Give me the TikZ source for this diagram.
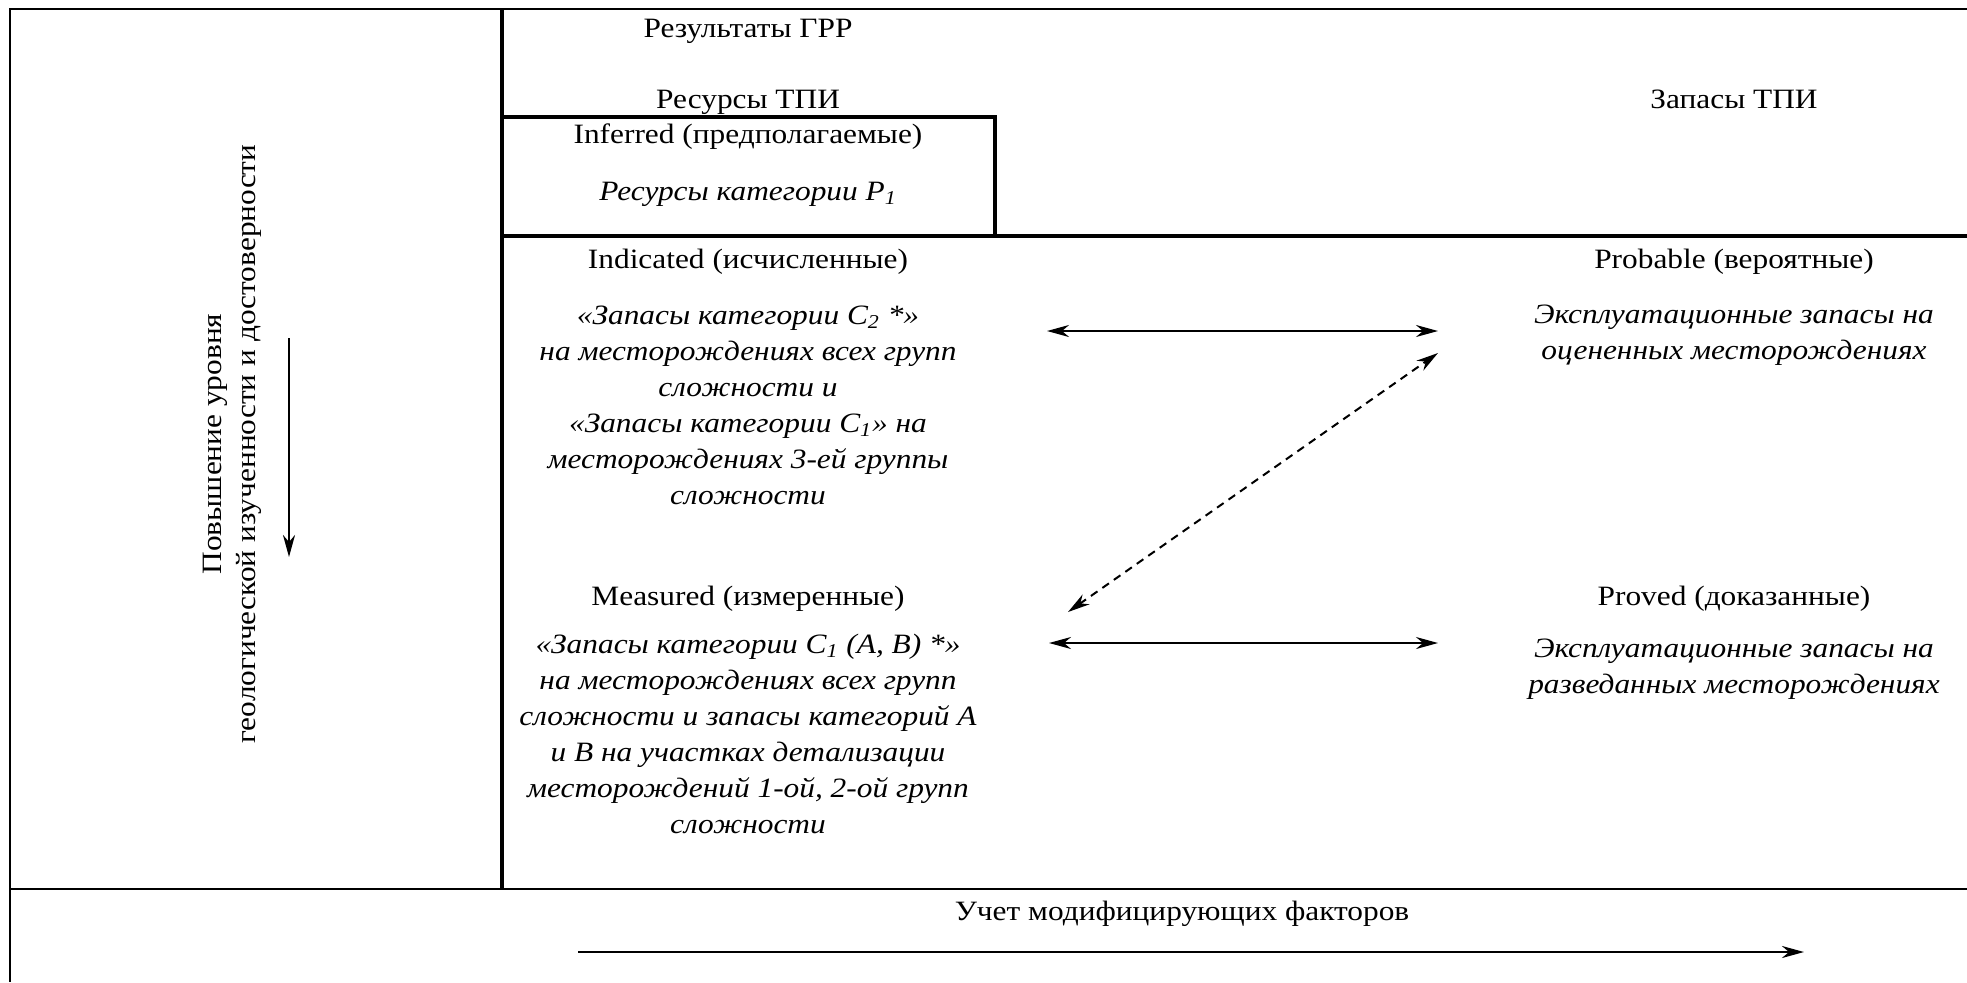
\documentclass[tikz,border=0pt]{standalone}
\usepackage{fontspec}
\setmainfont{Liberation Serif}[FakeStretch=1.12]
\usetikzlibrary{arrows.meta}
\begin{document}
\begin{tikzpicture}[x=0.5pt,y=-0.5pt,
  txt/.style={inner sep=0pt, align=center, font=\fontsize{14}{18}\selectfont},
  itxt/.style={inner sep=0pt, align=center, font=\fontsize{14}{18}\selectfont\itshape},
  thinframe/.style={line width=1.4pt},
  thickframe/.style={line width=2.3pt},
  tip/.tip={Stealth[length=11pt,width=6pt,inset=3.5pt]},
  dbl/.style={line width=1pt, tip-tip},
  one/.style={line width=1.3pt, -tip},
  dashline/.style={dash pattern=on 4pt off 3pt}
]
\useasboundingbox (0,0) rectangle (1967,982);
% frame
\draw[thinframe] (1967,9) -- (10,9) -- (10,982);
\draw[thinframe] (10,889) -- (1967,889);
\draw[thickframe] (502,9) -- (502,889);
\draw[thickframe] (502,117) -- (995,117) -- (995,236);
\draw[thickframe] (502,236) -- (1967,236);
% texts
\node[txt, anchor=base] (grr) at (748,37) {Результаты ГРР};
\node[txt, anchor=base] (res) at (748,108) {Ресурсы ТПИ};
\node[txt, anchor=base] (zap) at (1734,108) {Запасы ТПИ};
\node[txt, anchor=base] (inf) at (748,143) {Inferred (предполагаемые)};
\node[itxt, anchor=base] (p1) at (748,200) {Ресурсы категории Р\textsubscript{1}};
\node[txt, anchor=base] (ind) at (748,268) {Indicated (исчисленные)};
\node[itxt, anchor=north] (indt) at (748,298.8) {\strut«Запасы категории С\textsubscript{2} *»\\на месторождениях всех групп\\сложности и\\«Запасы категории С\textsubscript{1}» на\\месторождениях 3-ей группы\\сложности};
\node[txt, anchor=base] (prob) at (1734,268) {Probable (вероятные)};
\node[itxt, anchor=north] (probt) at (1734,297.8) {\strut Эксплуатационные запасы на\\оцененных месторождениях};
\node[txt, anchor=base] (meas) at (748,605) {Measured (измеренные)};
\node[itxt, anchor=north] (meast) at (748,627.8) {\strut«Запасы категории С\textsubscript{1} (А, В) *»\\на месторождениях всех групп\\сложности и запасы категорий А\\и В на участках детализации\\месторождений 1-ой, 2-ой групп\\сложности};
\node[txt, anchor=base] (prov) at (1734,605) {Proved (доказанные)};
\node[itxt, anchor=north] (provt) at (1734,631.8) {\strut Эксплуатационные запасы на\\разведанных месторождениях};
\node[txt, anchor=base] (mod) at (1182,920) {Учет модифицирующих факторов};
\node[inner sep=0pt, align=center, rotate=90, font=\fontsize{14}{17}\selectfont] (lev) at (232,444) {Повышение уровня\\геологической изученности и достоверности};
% connectors
\coordinate (u1) at (1047,331); \coordinate (u2) at (1438,331);
\draw[dbl] (u1) -- (u2);
\coordinate (d1) at (1068,612); \coordinate (d2) at (1438,353);
\draw[dbl, dashline] (d1) -- (d2);
\coordinate (l1) at (1049,643); \coordinate (l2) at (1438,643);
\draw[dbl] (l1) -- (l2);
\coordinate (b1) at (578,952); \coordinate (b2) at (1804,952);
\draw[one] (b1) -- (b2);
\coordinate (v1) at (289,338); \coordinate (v2) at (289,557);
\draw[one] (v1) -- (v2);
\end{tikzpicture}
\end{document}
